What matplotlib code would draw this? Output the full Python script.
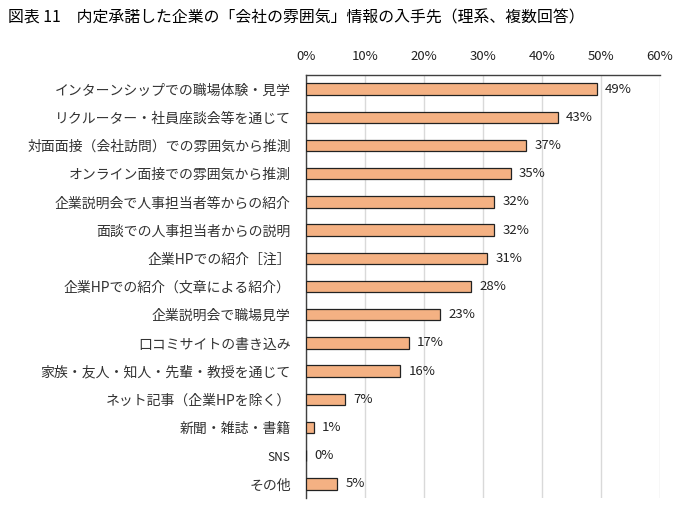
import matplotlib
matplotlib.use("Agg")
import matplotlib.pyplot as plt

plt.rcParams['font.family'] = ['Noto Sans CJK JP', 'DejaVu Sans']

categories = [
    "インターンシップでの職場体験・見学",
    "リクルーター・社員座談会等を通じて",
    "対面面接（会社訪問）での雰囲気から推測",
    "オンライン面接での雰囲気から推測",
    "企業説明会で人事担当者等からの紹介",
    "面談での人事担当者からの説明",
    "企業HPでの紹介［注］",
    "企業HPでの紹介（文章による紹介）",
    "企業説明会で職場見学",
    "口コミサイトの書き込み",
    "家族・友人・知人・先輩・教授を通じて",
    "ネット記事（企業HPを除く）",
    "新聞・雑誌・書籍",
    "SNS",
    "その他",
]
values = [49.3, 42.7, 37.3, 34.7, 31.9, 31.9, 30.7, 28.0, 22.7, 17.4, 16.0, 6.6, 1.3, 0.0, 5.3]
xticks = [0, 10, 20, 30, 40, 50, 60]
title = "図表 11　内定承諾した企業の「会社の雰囲気」情報の入手先（理系、複数回答）"

fig = plt.figure(figsize=(6.87, 5.15), dpi=100)
ax = fig.add_axes([306/687, 1-498/515, (660-306)/687, (498-75)/515])

ypos = list(range(len(categories)))
ax.barh(ypos, values, height=0.4, color="#F4B183", edgecolor="#222222", linewidth=0.9, zorder=3)
for y, v in zip(ypos, values):
    ax.text(v + 1.4, y, f"{v:.0f}%", va="center", ha="left", fontsize=9.5, color="#222222")

ax.set_ylim(len(categories) - 0.5, -0.5)
ax.set_xlim(0, 60)
ax.set_yticks(ypos)
ax.set_yticklabels(categories, fontsize=10, color="#333333")
for lbl in ax.get_yticklabels():
    if lbl.get_text() == "SNS":
        lbl.set_fontsize(8.5)
        lbl.set_color("#222222")
ax.set_xticks(xticks)
ax.set_xticklabels([f"{t}%" for t in xticks], fontsize=9.5, color="#222222")
ax.xaxis.tick_top()
ax.tick_params(axis='x', length=0, pad=9)
ax.tick_params(axis='y', length=0, pad=11)
ax.grid(axis='x', color="#D9D9D9", linewidth=1, zorder=0)
for s in ['right', 'bottom']:
    ax.spines[s].set_visible(False)
ax.spines['top'].set_color("#404040")
ax.spines['left'].set_color("#404040")
ax.spines['top'].set_linewidth(1)
ax.spines['left'].set_linewidth(1)

fig.text(8/687, 1-18/515, title, fontsize=11.4, va="center", ha="left", color="black")

fig.savefig("out.png", dpi=100)
